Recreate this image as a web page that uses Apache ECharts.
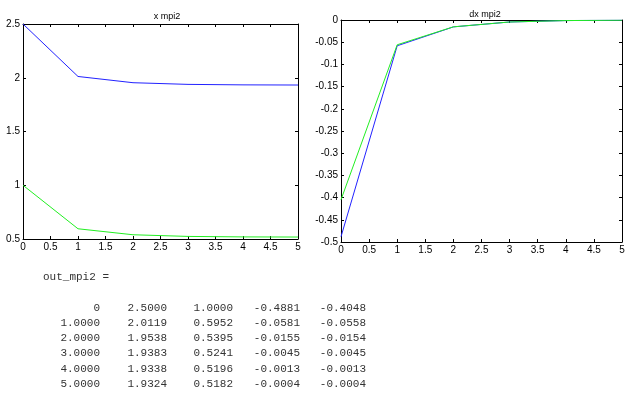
<!DOCTYPE html>
<html>
<head>
<meta charset="utf-8">
<script src="https://cdn.jsdelivr.net/npm/echarts@6/dist/echarts.min.js"></script>
<style>
html,body{margin:0;padding:0;background:#fff;}
#c{width:631px;height:395px;}
</style>
</head>
<body>
<div id="c"></div>
<script>
// Data (from the printed table out_mpi2)
var tValues = [0, 1, 2, 3, 4, 5];
var x1Values = [2.5000, 2.0119, 1.9538, 1.9383, 1.9338, 1.9324];
var x2Values = [1.0000, 0.5952, 0.5395, 0.5241, 0.5196, 0.5182];
var dx1Values = [-0.4881, -0.0581, -0.0155, -0.0045, -0.0013, -0.0004];
var dx2Values = [-0.4048, -0.0558, -0.0154, -0.0045, -0.0013, -0.0004];
var leftTitle = 'x mpi2';
var rightTitle = 'dx mpi2';
var tableName = 'out_mpi2 =';

function pairs(xs, ys) { return xs.map(function (x, i) { return [x, ys[i]]; }); }

var chart = echarts.init(document.getElementById('c'), null, {renderer: 'canvas'});

var labelFont = {fontFamily: 'Liberation Sans, Arial, sans-serif', fontSize: 10, color: '#000'};
function axisBase(extra) {
  var o = {
    type: 'value',
    axisLine: {show: true, onZero: false, lineStyle: {color: '#000', width: 1}},
    axisTick: {show: true, inside: true, length: 3, lineStyle: {color: '#000'}},
    splitLine: {show: false},
    axisLabel: Object.assign({show: true, margin: 3}, labelFont)
  };
  return Object.assign(o, extra);
}

var xAxes = [
  axisBase({gridIndex: 0, min: 0, max: 5, interval: 0.5, position: 'bottom'}),
  axisBase({gridIndex: 0, min: 0, max: 5, interval: 0.5, position: 'top', axisLabel: {show: false}}),
  axisBase({gridIndex: 1, min: 0, max: 5, interval: 0.5, position: 'bottom'}),
  axisBase({gridIndex: 1, min: 0, max: 5, interval: 0.5, position: 'top', axisLabel: {show: false}})
];
var yAxes = [
  axisBase({gridIndex: 0, min: 0.5, max: 2.5, interval: 0.5, position: 'left'}),
  axisBase({gridIndex: 0, min: 0.5, max: 2.5, interval: 0.5, position: 'right', axisLabel: {show: false}}),
  axisBase({gridIndex: 1, min: -0.5, max: 0, interval: 0.05, position: 'left'}),
  axisBase({gridIndex: 1, min: -0.5, max: 0, interval: 0.05, position: 'right', axisLabel: {show: false}})
];

// Table text built from the data arrays
function fmt(v) { return v === 0 ? '0' : v.toFixed(4); }
var cols = [tValues, x1Values, x2Values, dx1Values, dx2Values];
var colRight = [100, 167, 233, 300, 366];
var rowY = [308, 323, 338.5, 353.5, 369, 384];
var monoFont = '11px "Liberation Mono", "Courier New", monospace';
var graphics = [{
  type: 'text', left: 43, top: 272,
  style: {text: tableName, font: monoFont, fill: '#333'}
}];
for (var r = 0; r < tValues.length; r++) {
  for (var c = 0; c < cols.length; c++) {
    graphics.push({
      type: 'text', x: colRight[c], y: rowY[r],
      style: {text: fmt(cols[c][r]), font: monoFont, fill: '#333', align: 'right', verticalAlign: 'middle'}
    });
  }
}

chart.setOption({
  animation: false,
  backgroundColor: '#fff',
  title: [
    {text: leftTitle, left: 162, top: 7, textAlign: 'center',
     textStyle: {fontFamily: 'Liberation Sans, Arial, sans-serif', fontSize: 9, fontWeight: 'normal', color: '#000'}},
    {text: rightTitle, left: 480, top: 5, textAlign: 'center',
     textStyle: {fontFamily: 'Liberation Sans, Arial, sans-serif', fontSize: 9, fontWeight: 'normal', color: '#000'}}
  ],
  grid: [
    {left: 23, top: 24, width: 275, height: 215},
    {left: 341, top: 20, width: 281, height: 222}
  ],
  xAxis: xAxes,
  yAxis: yAxes,
  series: [
    {type: 'line', xAxisIndex: 0, yAxisIndex: 0, data: pairs(tValues, x1Values), symbol: 'none',
     lineStyle: {color: '#2222ff', width: 1}},
    {type: 'line', xAxisIndex: 0, yAxisIndex: 0, data: pairs(tValues, x2Values), symbol: 'none',
     lineStyle: {color: '#22ee22', width: 1}},
    {type: 'line', xAxisIndex: 2, yAxisIndex: 2, data: pairs(tValues, dx1Values), symbol: 'none',
     lineStyle: {color: '#2222ff', width: 1}},
    {type: 'line', xAxisIndex: 2, yAxisIndex: 2, data: pairs(tValues, dx2Values), symbol: 'none',
     lineStyle: {color: '#22ee22', width: 1}}
  ],
  graphic: graphics
});
</script>
</body>
</html>
